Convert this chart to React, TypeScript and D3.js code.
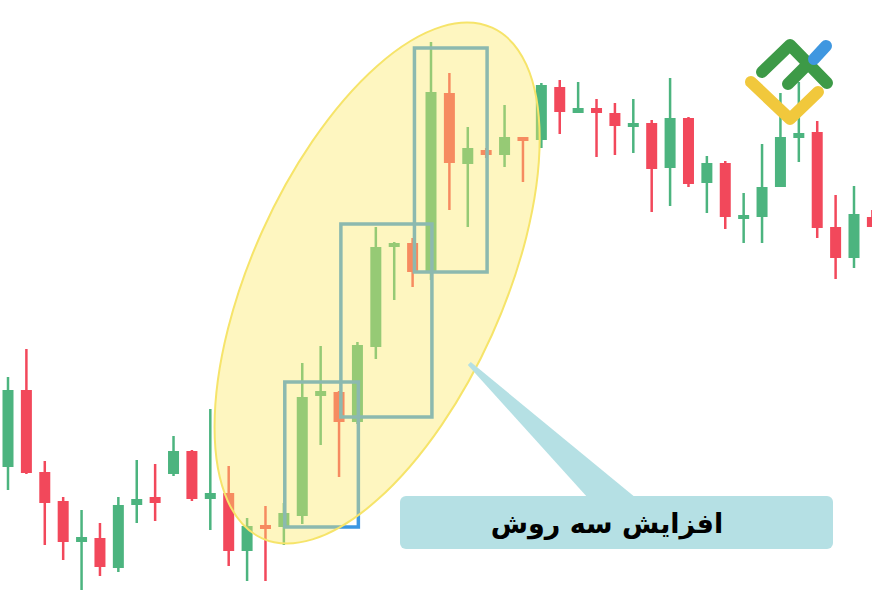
import React from 'react';
import * as d3 from 'd3';

// candle prices (index = position on the time axis)
const opens = [133, 210, 128, 99, 58, 62, 32, 95, 103, 126, 149, 101, 107, 49, 75, 73, 84, 204, 208, 178, 253, 353, 357, 328, 507, 436, 450, 445, 463, 460, 513, 487, 492, 487, 474, 477, 432, 482, 417, 437, 383, 383, 413, 462, 468, 373, 342, 383];
const highs = [223, 251, 139, 103, 90, 77, 103, 140, 136, 164, 150, 191, 134, 82, 94, 97, 237, 254, 209, 258, 373, 358, 362, 558, 527, 473, 452, 495, 463, 517, 520, 518, 501, 497, 501, 480, 522, 483, 444, 439, 407, 456, 507, 518, 479, 405, 414, 390];
const lows = [110, 126, 55, 40, 10, 24, 28, 77, 79, 124, 99, 70, 34, 19, 19, 55, 76, 155, 123, 176, 241, 300, 313, 320, 390, 373, 442, 433, 418, 452, 466, 487, 443, 445, 447, 388, 394, 413, 387, 371, 357, 357, 413, 438, 362, 321, 332, 373];
const closes = [210, 127, 97, 58, 63, 33, 95, 101, 97, 149, 101, 107, 49, 74, 72, 87, 203, 209, 178, 255, 353, 357, 328, 508, 437, 452, 445, 463, 460, 515, 488, 492, 487, 474, 477, 431, 482, 416, 437, 383, 385, 413, 463, 467, 372, 342, 386, 373];

// the three boxes of the pattern: [start index, end index, top price, bottom price]
const boxes = [
  [15.05, 19.05, 218, 73],
  [18.1, 23.05, 376, 183],
  [22.1, 26.05, 552, 328],
];

// highlight ellipse centre (index, price) and callout tip
const ellipseCenter = [20.07, 317];
const calloutTip = [25.0, 235];
const label = 'افزایش سه روش';

const W = 872;
const H = 604;

const candles = opens.map((o, i) => ({
  i,
  open: o,
  high: highs[i],
  low: lows[i],
  close: closes[i],
}));

export default function App() {
  const x = d3.scaleLinear().domain([0, 46]).range([8, 854]);
  const y = d3.scaleLinear().domain([0, 600]).range([600, 0]);
  const bodyW = 11;

  const up = '#4cb47f';
  const down = '#f2485b';

  const tipX = x(calloutTip[0]);
  const tipY = y(calloutTip[1]);

  const cx = x(ellipseCenter[0]);
  const cy = y(ellipseCenter[1]);

  return (
    <svg
      width={W}
      height={H}
      style={{ position: 'absolute', left: 0, top: 0, background: '#fff' }}
    >
      {/* candles */}
      <g>
        {candles.map((d) => {
          const col = d.close >= d.open ? up : down;
          const top = y(Math.max(d.open, d.close));
          const bot = y(Math.min(d.open, d.close));
          return (
            <g key={d.i}>
              <line
                x1={x(d.i)}
                x2={x(d.i)}
                y1={y(d.high)}
                y2={y(d.low)}
                stroke={col}
                strokeWidth={2.5}
              />
              <rect
                x={x(d.i) - bodyW / 2}
                y={top}
                width={bodyW}
                height={Math.max(bot - top, 4)}
                fill={col}
              />
            </g>
          );
        })}
      </g>

      {/* pattern boxes */}
      <g fill="none" stroke="#3b97e2" strokeWidth={3.5}>
        {boxes.map((b, k) => (
          <rect
            key={k}
            x={x(b[0])}
            y={y(b[2])}
            width={x(b[1]) - x(b[0])}
            height={y(b[3]) - y(b[2])}
          />
        ))}
      </g>

      {/* highlight */}
      <ellipse
        cx={cx}
        cy={cy}
        rx={126}
        ry={280}
        transform={`rotate(24.25 ${cx} ${cy})`}
        fill="rgb(253,233,104)"
        fillOpacity={0.42}
        stroke="#f6e46a"
        strokeWidth={2}
      />

      {/* callout */}
      <path
        d={`M${tipX},${tipY} L${tipX + 3},${tipY - 3} L636,498 L588,498 Z`}
        fill="#b5e0e4"
      />
      <rect x={400} y={496} width={433} height={53} rx={6} fill="#b5e0e4" />
      <text
        x={607}
        y={533}
        textAnchor="middle"
        direction="rtl"
        fontFamily="'DejaVu Sans', 'Noto Sans', sans-serif"
        fontWeight="bold"
        fontSize={27}
        fill="#000"
      >
        {label}
      </text>

      {/* logo */}
      <g fill="none" strokeWidth={12} strokeLinecap="round" strokeLinejoin="round">
        <path d="M751,82 L790,119 L818,92" stroke="#f1c83c" />
        <path d="M762,72 L790,45 L827,83" stroke="#3d9a47" />
        <path d="M788,84 L810,62" stroke="#3d9a47" />
        <path d="M814,59 L826,46" stroke="#3f97e0" />
      </g>
    </svg>
  );
}
